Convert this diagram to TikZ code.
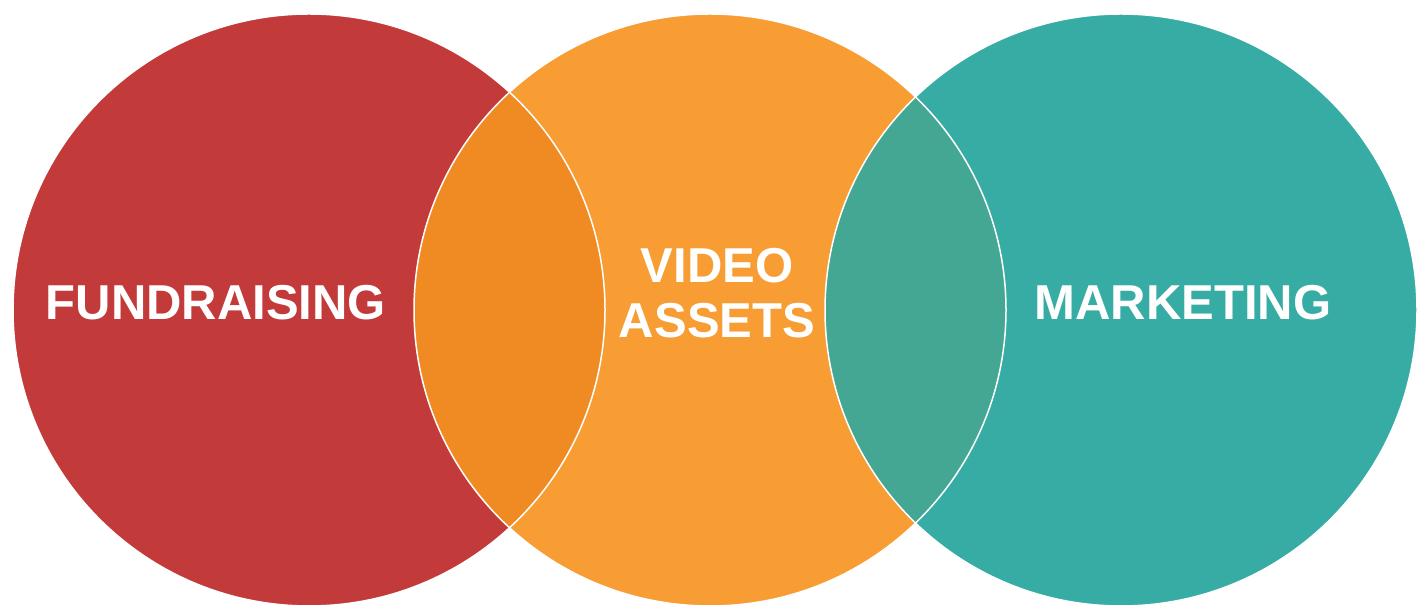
\documentclass[tikz,border=0pt]{standalone}
\usepackage{fontspec}
\setmainfont{Liberation Sans}
\usepackage{tikz}

\definecolor{fundred}{HTML}{C33A3A}
\definecolor{videoorange}{HTML}{F79D34}
\definecolor{marketteal}{HTML}{37ACA4}
\definecolor{fundvideo}{HTML}{EF8B22}
\definecolor{videomarket}{HTML}{44A793}

\begin{document}
\begin{tikzpicture}[x=1pt,y=1pt,
  ring/.style={draw=white,line width=1.5pt},
  word/.style={text=white,font=\bfseries\fontsize{49}{55}\selectfont,align=center,inner sep=0pt}]
\useasboundingbox (0,0) rectangle (1427,607);
\coordinate (f) at (309,297);
\coordinate (v) at (710,297);
\coordinate (m) at (1121,297);
\def\rad{296}
% the three sets
\fill [fundred] (f) circle (\rad);
\fill [videoorange] (v) circle (\rad);
\fill [marketteal] (m) circle (\rad);
% overlaps
\begin{scope}
  \clip (f) circle (\rad);
  \fill [fundvideo] (v) circle (\rad);
\end{scope}
\begin{scope}
  \clip (m) circle (\rad);
  \fill [videomarket] (v) circle (\rad);
\end{scope}
\draw [ring] (f) circle (\rad);
\draw [ring] (v) circle (\rad);
\draw [ring] (m) circle (\rad);
% labels
\node [word] (fundraising) at (216,304.5) {FUNDRAISING};
\node [word] (video) at (717,314) {VIDEO\\ASSETS};
\node [word] (marketing) at (1183,304.5) {MARKETING};
\end{tikzpicture}
\end{document}
